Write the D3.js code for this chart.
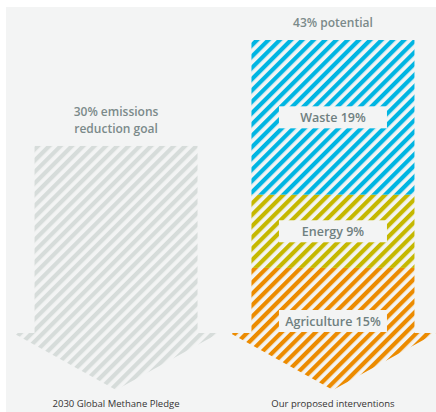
<!DOCTYPE html>
<html>
<head>
<meta charset="utf-8">
<script src="https://cdn.jsdelivr.net/npm/d3@7"></script>
<style>
  body { margin: 0; background: #fff; }
  svg { display: block; }
</style>
</head>
<body>
<svg id="chart" width="436" height="412"></svg>
<script>
// columns
var columns = ["2030 Global Methane Pledge", "Our proposed interventions"];
var totals = [30, 43];
var totalLabels = [["30% emissions", "reduction goal"], ["43% potential"]];

// sectors of the right column, bottom up
var sectors = ["Agriculture", "Energy", "Waste"];
var sectorValues = [15, 9, 19];
var sectorColors = ["#ec8b00", "#c5b800", "#00b5e2"];
var goalColor = "#d6dcda";

var width = 436, height = 412;
var bg = "#f3f4f4";
var headH = 57;

var svg = d3.select("#chart");

// panel
svg.append("rect")
	.attr("x", 6).attr("y", 7)
	.attr("width", width - 6).attr("height", height - 7)
	.attr("fill", bg);

var x = d3.scaleBand()
	.domain(columns)
	.range([13, 436])
	.paddingInner(0.05);

var y = d3.scaleLinear()
	.domain([0, 43])
	.range([390, 40]);

// stripe patterns
var defs = svg.append("defs");
function stripe(id, color){
	var p = defs.append("pattern")
		.attr("id", id)
		.attr("patternUnits", "userSpaceOnUse")
		.attr("width", 8).attr("height", 8)
		.attr("patternTransform", "rotate(45)");
	p.append("rect").attr("width", 8).attr("height", 8).attr("fill", bg);
	p.append("rect").attr("width", 4.2).attr("height", 8).attr("fill", color);
}
stripe("st-goal", goalColor);
sectors.forEach(function(s, i){ stripe("st-" + i, sectorColors[i]); });

// arrow outline for a column, used as clip
function arrowPath(col, top){
	var x0 = x(col), bw = x.bandwidth();
	var shaft = 163;
	var cx = x0 + bw / 2;
	var headTop = y(0) - headH;
	var sl = cx - shaft / 2, sr = cx + shaft / 2;
	return "M" + sl + "," + top +
		"L" + sr + "," + top +
		"L" + sr + "," + headTop +
		"L" + (x0 + bw) + "," + headTop +
		"L" + cx + "," + y(0) +
		"L" + x0 + "," + headTop +
		"L" + sl + "," + headTop + "Z";
}

columns.forEach(function(col, i){
	defs.append("clipPath")
		.attr("id", "clip-" + i)
		.append("path")
		.attr("d", arrowPath(col, y(totals[i])));
});

// left arrow: goal
svg.append("rect")
	.attr("clip-path", "url(#clip-0)")
	.attr("x", x(columns[0])).attr("width", x.bandwidth())
	.attr("y", y(totals[0])).attr("height", y(0) - y(totals[0]))
	.attr("fill", "url(#st-goal)");

// right arrow: stacked sectors
var cum = 0;
var stacks = sectorValues.map(function(v, i){
	var d = { name: sectors[i], value: v, y0: cum, y1: cum + v, i: i };
	cum += v;
	return d;
});

var g = svg.append("g").attr("clip-path", "url(#clip-1)");
g.selectAll("rect")
	.data(stacks)
	.join("rect")
	.attr("x", x(columns[1]))
	.attr("width", x.bandwidth())
	.attr("y", d => y(d.y1))
	.attr("height", d => y(d.y0) - y(d.y1))
	.attr("fill", d => "url(#st-" + d.i + ")");

// sector labels
var labelFont = "'Open Sans', sans-serif";
var cxR = x(columns[1]) + x.bandwidth() / 2;
var headTop = y(0) - headH;
stacks.forEach(function(d){
	var ly = d.y0 === 0 ? headTop - 12 : (y(d.y0) + y(d.y1)) / 2;
	svg.append("rect")
		.attr("x", cxR - 54).attr("y", ly - 11)
		.attr("width", 108).attr("height", 22)
		.attr("fill", bg);
	svg.append("text")
		.attr("x", cxR).attr("y", ly + 4.5)
		.attr("text-anchor", "middle")
		.style("font-family", labelFont)
		.style("font-weight", 600)
		.style("font-size", "12.5px")
		.attr("fill", "#6f8080")
		.text(d.name + " " + d.value + "%");
});

// total labels above arrows
columns.forEach(function(col, i){
	var cx = x(col) + x.bandwidth() / 2;
	var lines = totalLabels[i];
	var top = y(totals[i]);
	lines.forEach(function(s, j){
		svg.append("text")
			.attr("x", cx)
			.attr("y", top - 13 - (lines.length - 1 - j) * 17)
			.attr("text-anchor", "middle")
			.style("font-family", labelFont)
			.style("font-weight", 600)
			.style("font-size", "12px")
			.attr("fill", "#7b8a8a")
			.text(s);
	});
	// column names
	svg.append("text")
		.attr("x", cx).attr("y", 407)
		.attr("text-anchor", "middle")
		.style("font-family", labelFont)
		.style("font-size", "9.5px")
		.attr("fill", "#333")
		.text(col);
});
</script>
</body>
</html>
